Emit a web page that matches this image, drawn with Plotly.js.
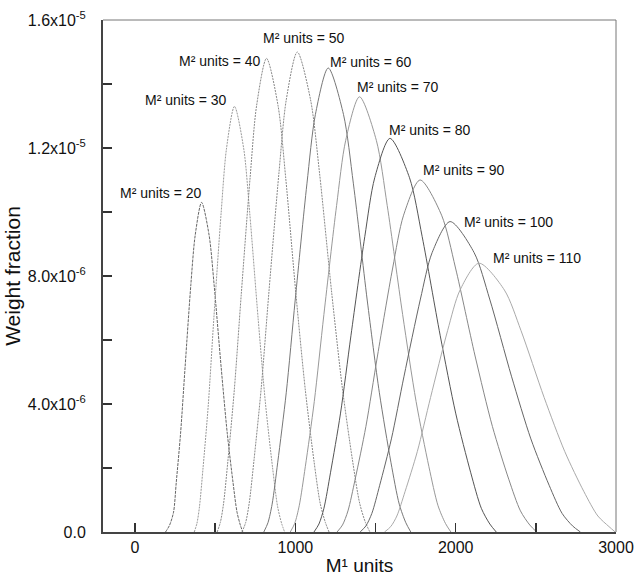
<!DOCTYPE html>
<html><head><meta charset="utf-8">
<script src="https://cdn.plot.ly/plotly-3.0.1.min.js"></script>
<style>html,body{margin:0;padding:0;background:#fff;}#chart{width:636px;height:577px;}</style>
</head><body><div id="chart"></div>
<script>
// Series labels (M² units)
const seriesLabels = ['M² units = 20','M² units = 30','M² units = 40','M² units = 50','M² units = 60',
                      'M² units = 70','M² units = 80','M² units = 90','M² units = 100','M² units = 110'];

// M¹ units (x) and weight fraction (y)
const x20 = [190, 215, 240, 257, 284, 312, 348, 375, 415, 462, 493, 537, 575, 611, 636, 657, 672];
const y20 = [0, 0.21e-6, 0.62e-6, 1.55e-6, 3.09e-6, 5.15e-6, 7.73e-6, 9.27e-6, 10.3e-6, 9.27e-6, 7.73e-6, 5.15e-6, 3.09e-6, 1.55e-6, 0.62e-6, 0.21e-6, 0];
const x30 = [369, 386, 402, 424, 457, 491, 537, 570, 620, 678, 715, 768, 814, 858, 889, 914, 933];
const y30 = [0, 0.27e-6, 0.80e-6, 2.0e-6, 3.99e-6, 6.65e-6, 9.98e-6, 11.97e-6, 13.3e-6, 11.97e-6, 9.98e-6, 6.65e-6, 3.99e-6, 2.0e-6, 0.80e-6, 0.27e-6, 0];
const x40 = [512, 532, 552, 579, 619, 662, 718, 758, 820, 892, 939, 1004, 1062, 1116, 1155, 1187, 1210];
const y40 = [0, 0.30e-6, 0.89e-6, 2.22e-6, 4.44e-6, 7.4e-6, 11.1e-6, 13.32e-6, 14.8e-6, 13.32e-6, 11.1e-6, 7.4e-6, 4.44e-6, 2.22e-6, 0.89e-6, 0.30e-6, 0];
const x50 = [667, 690, 712, 742, 787, 835, 898, 943, 1012, 1095, 1150, 1226, 1293, 1356, 1401, 1437, 1465];
const y50 = [0, 0.30e-6, 0.90e-6, 2.25e-6, 4.5e-6, 7.5e-6, 11.25e-6, 13.5e-6, 15.0e-6, 13.5e-6, 11.25e-6, 7.5e-6, 4.5e-6, 2.25e-6, 0.90e-6, 0.30e-6, 0];
const x60 = [803, 829, 855, 890, 943, 999, 1072, 1125, 1205, 1300, 1362, 1448, 1524, 1596, 1648, 1689, 1720];
const y60 = [0, 0.29e-6, 0.87e-6, 2.18e-6, 4.35e-6, 7.25e-6, 10.88e-6, 13.05e-6, 14.5e-6, 13.05e-6, 10.88e-6, 7.25e-6, 4.35e-6, 2.18e-6, 0.87e-6, 0.29e-6, 0];
const x70 = [968, 996, 1024, 1062, 1118, 1178, 1257, 1314, 1400, 1505, 1573, 1669, 1753, 1833, 1890, 1936, 1970];
const y70 = [0, 0.27e-6, 0.82e-6, 2.04e-6, 4.08e-6, 6.8e-6, 10.2e-6, 12.24e-6, 13.6e-6, 12.24e-6, 10.2e-6, 6.8e-6, 4.08e-6, 2.04e-6, 0.82e-6, 0.27e-6, 0];
const x80 = [1116, 1147, 1178, 1219, 1281, 1347, 1433, 1495, 1590, 1712, 1791, 1903, 2001, 2094, 2160, 2213, 2253];
const y80 = [0, 0.25e-6, 0.74e-6, 1.85e-6, 3.69e-6, 6.15e-6, 9.23e-6, 11.07e-6, 12.3e-6, 11.07e-6, 9.23e-6, 6.15e-6, 3.69e-6, 1.85e-6, 0.74e-6, 0.25e-6, 0];
const x90 = [1260, 1294, 1328, 1373, 1440, 1512, 1607, 1675, 1778, 1912, 1999, 2121, 2229, 2331, 2404, 2462, 2505];
const y90 = [0, 0.22e-6, 0.66e-6, 1.65e-6, 3.3e-6, 5.5e-6, 8.25e-6, 9.9e-6, 11.0e-6, 9.9e-6, 8.25e-6, 5.5e-6, 3.3e-6, 1.65e-6, 0.66e-6, 0.22e-6, 0];
const x100 = [1404, 1440, 1477, 1526, 1599, 1677, 1780, 1853, 1965, 2115, 2212, 2349, 2469, 2583, 2664, 2729, 2778];
const y100 = [0, 0.19e-6, 0.58e-6, 1.46e-6, 2.91e-6, 4.85e-6, 7.28e-6, 8.73e-6, 9.7e-6, 8.73e-6, 7.28e-6, 4.85e-6, 2.91e-6, 1.46e-6, 0.58e-6, 0.19e-6, 0];
const x110 = [1556, 1595, 1633, 1684, 1761, 1843, 1950, 2027, 2145, 2304, 2407, 2552, 2680, 2800, 2887, 2956, 2995];
const y110 = [0, 0.17e-6, 0.50e-6, 1.26e-6, 2.52e-6, 4.2e-6, 6.3e-6, 7.56e-6, 8.4e-6, 7.56e-6, 6.3e-6, 4.2e-6, 2.52e-6, 1.26e-6, 0.50e-6, 0.17e-6, 0];

// Tick labels
const xTickVals = [0, 500, 1000, 1500, 2000, 2500, 3000];
const xTickText = ['0', '', '1000', '', '2000', '', '3000'];
const yTickVals = [0, 2e-6, 4e-6, 6e-6, 8e-6, 1e-5, 1.2e-5, 1.4e-5, 1.6e-5];
const yTickText = ['0.0', '', '4.0x10<sup>-6</sup>', '', '8.0x10<sup>-6</sup>', '', '1.2x10<sup>-5</sup>', '', '1.6x10<sup>-5</sup>'];

const xs = [x20, x30, x40, x50, x60, x70, x80, x90, x100, x110];
const ys = [y20, y30, y40, y50, y60, y70, y80, y90, y100, y110];

// styles
const lineColors = ['#666', '#999', '#888', '#888', '#777', '#999', '#555', '#888', '#666', '#aaa'];
const lineDash = ['3px,1px', '2px,1px', '2px,1px', '2px,1px', 'solid', 'solid', 'solid', 'solid', 'solid', 'solid'];
// label anchor positions (layout)
const labelX = [162, 319, 530, 1056, 1472, 1640, 1837, 2053, 2328, 2506];
const labelY = [10.6e-6, 13.5e-6, 14.72e-6, 15.44e-6, 14.69e-6, 13.9e-6, 12.56e-6, 11.31e-6, 9.69e-6, 8.56e-6];

const traces = xs.map((x, i) => ({
  x: x, y: ys[i], type: 'scatter', mode: 'lines', name: seriesLabels[i],
  line: {color: lineColors[i], width: 1, dash: lineDash[i], shape: 'spline', smoothing: 0.8},
  hoverinfo: 'skip'
}));

const font = 'Liberation Sans, Arial, sans-serif';
const annotations = seriesLabels.map((t, i) => ({
  x: labelX[i], y: labelY[i], xref: 'x', yref: 'y', text: t, showarrow: false,
  xanchor: 'center', yanchor: 'middle', font: {family: font, size: 14, color: '#111'}
}));

const layout = {
  width: 636, height: 577,
  margin: {l: 103, r: 20, t: 20, b: 45},
  paper_bgcolor: '#fff', plot_bgcolor: '#fff',
  showlegend: false,
  font: {family: font, color: '#111'},
  xaxis: {
    range: [-200, 3000], showgrid: false, zeroline: false,
    tickmode: 'array', tickvals: xTickVals, ticktext: xTickText,
    ticks: 'inside', ticklen: 9, tickwidth: 1.5, tickcolor: '#333',
    showline: true, linecolor: '#444', linewidth: 2,
    tickfont: {family: font, size: 16, color: '#111'},
    title: {text: 'M¹ units', font: {family: font, size: 19, color: '#111'}, standoff: 3}
  },
  yaxis: {
    range: [0, 1.6e-5], showgrid: false, zeroline: false,
    tickmode: 'array', tickvals: yTickVals, ticktext: yTickText,
    ticks: 'inside', ticklen: 9, tickwidth: 1.5, tickcolor: '#333',
    showline: true, linecolor: '#444', linewidth: 2,
    ticklabelstandoff: 12,
    tickfont: {family: font, size: 16, color: '#111'},
    title: {text: 'Weight fraction', font: {family: font, size: 21, color: '#111'}, standoff: 1}
  },
  shapes: [
    {type: 'line', xref: 'paper', yref: 'paper', x0: 0, x1: 1, y0: 1, y1: 1, line: {color: '#777', width: 1}},
    {type: 'line', xref: 'paper', yref: 'paper', x0: 1, x1: 1, y0: 0, y1: 1, line: {color: '#777', width: 1}}
  ],
  annotations: annotations
};

Plotly.newPlot('chart', traces, layout, {displayModeBar: false, staticPlot: true});
</script>
</body></html>
